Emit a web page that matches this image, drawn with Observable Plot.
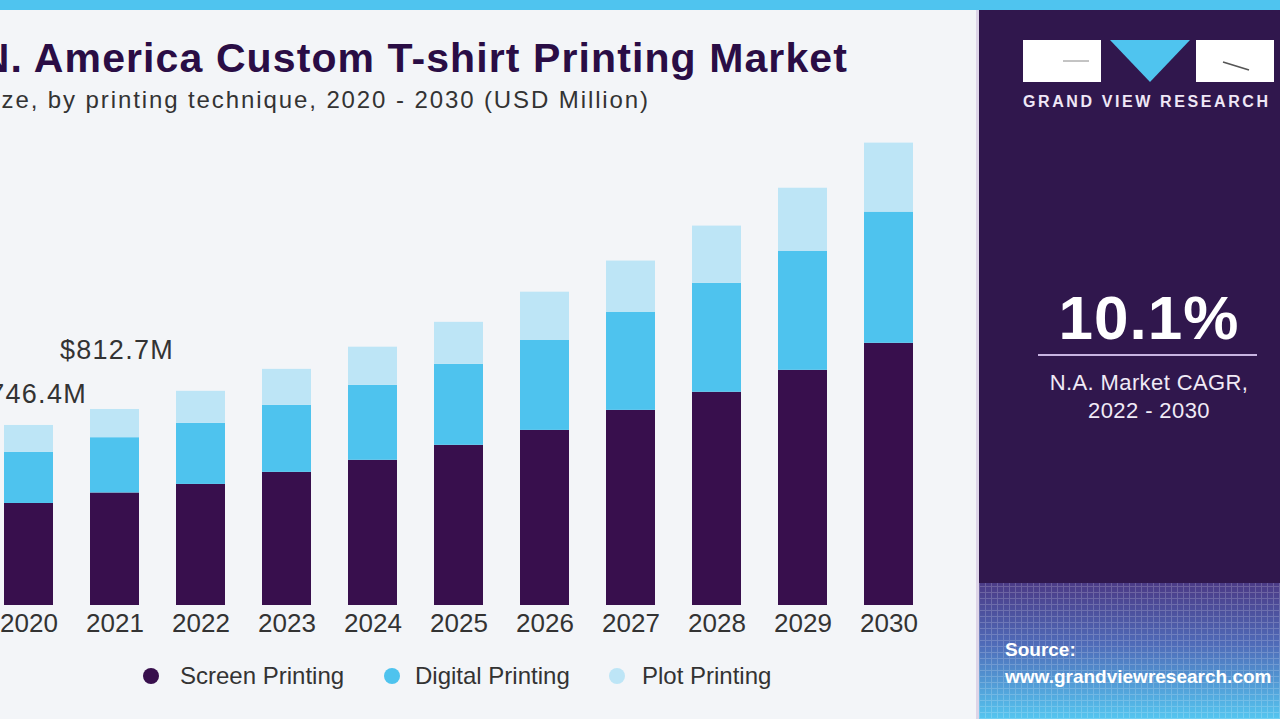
<!DOCTYPE html>
<html>
<head>
<meta charset="utf-8">
<script src="https://cdn.jsdelivr.net/npm/d3@7"></script>
<script src="https://cdn.jsdelivr.net/npm/@observablehq/plot@0.6"></script>
<style>
  body { margin: 0; }
  #page { position: relative; width: 1280px; height: 719px; overflow: hidden; background: #f3f5f8; font-family: "Liberation Sans", Arial, sans-serif; }
  .abs { position: absolute; white-space: nowrap; }
</style>
</head>
<body>
<div id="page">
  <div class="abs" style="left:0;top:0;width:1280px;height:10px;background:#4fc4ef;"></div>
  <div class="abs" style="right:432px;top:35px;font-size:41px;line-height:47px;font-weight:bold;color:#2a0d45;letter-spacing:1.1px;">N. America Custom T-shirt Printing Market</div>
  <div class="abs" style="right:630px;top:86px;font-size:24px;line-height:28px;color:#333;letter-spacing:1.9px;">Market size, by printing technique, 2020 - 2030 (USD Million)</div>
  <div id="chart" class="abs" style="left:0;top:120px;"></div>
  <div id="legend"></div>

  <div class="abs" style="left:976px;top:10px;width:3px;height:709px;background:#ddd5e8;"></div>
  <div class="abs" style="left:979px;top:10px;width:301px;height:709px;background:#30174d;"></div>
  <div class="abs" style="left:979px;top:583px;width:301px;height:136px;background:linear-gradient(#4b3a86 0%, #4f6bb8 45%, #55c6f0 100%);"></div>
  <div class="abs" style="left:979px;top:583px;width:301px;height:136px;opacity:0.18;background:repeating-linear-gradient(90deg, #fff 0 1px, transparent 1px 6px),repeating-linear-gradient(0deg, #fff 0 1px, transparent 1px 6px);"></div>

  <svg class="abs" style="left:979px;top:10px;" width="301" height="120">
    <rect x="44" y="30" width="78" height="42" fill="#ffffff"/>
    <line x1="84" y1="51" x2="110" y2="51" stroke="#888" stroke-width="1"/>
    <polygon points="131,30 211,30 171,72" fill="#4fc4ef"/>
    <rect x="217" y="30" width="78" height="42" fill="#ffffff"/>
    <line x1="244" y1="52" x2="270" y2="60" stroke="#555" stroke-width="1.5"/>
  </svg>
  <div class="abs" style="left:1023px;top:93px;font-size:16px;line-height:18px;font-weight:bold;color:#efe7f6;letter-spacing:2.6px;">GRAND VIEW RESEARCH</div>

  <div class="abs" style="left:1019px;width:260px;top:283px;text-align:center;font-size:62px;line-height:70px;font-weight:bold;color:#ffffff;letter-spacing:1px;">10.1%</div>
  <div class="abs" style="left:1038px;top:354px;width:219px;height:2px;background:#c8b4e2;"></div>
  <div class="abs" style="left:1019px;width:260px;top:369px;text-align:center;font-size:22px;line-height:28px;color:#f0eaf6;letter-spacing:0.4px;">N.A. Market CAGR,<br>2022 - 2030</div>

  <div class="abs" style="left:1005px;top:639px;font-size:19px;line-height:22px;font-weight:bold;color:#ffffff;">Source:</div>
  <div class="abs" style="left:1005px;top:666px;font-size:19px;line-height:22px;font-weight:bold;color:#ffffff;">www.grandviewresearch.com</div>
</div>
<script>
const years = ["2020","2021","2022","2023","2024","2025","2026","2027","2028","2029","2030"];
const screenPrinting = [423.0, 466.5, 502, 552, 602, 664, 726, 809, 884, 975, 1087];
const digitalPrinting = [211.5, 229.2, 253, 278, 311, 336, 374, 407, 452, 494, 544];
const plotPrinting = [111.9, 117.0, 133, 149, 158, 174, 199, 212, 237, 261, 286];
const seriesNames = ["Screen Printing", "Digital Printing", "Plot Printing"];
const seriesColors = ["#380f4d", "#4ec3ee", "#bde5f6"];
const labelYears = ["2020", "2021"];
const labelTexts = ["$746.4M", "$812.7M"];

const seriesValues = [screenPrinting, digitalPrinting, plotPrinting];
const data = years.flatMap((yr, i) => seriesNames.map((s, k) => ({year: yr, series: s, value: seriesValues[k][i]})));
const totals = years.map((yr, i) => screenPrinting[i] + digitalPrinting[i] + plotPrinting[i]);
const labels = labelYears.map((yr, j) => ({year: yr, total: totals[years.indexOf(yr)], label: labelTexts[j]}));

const chart = Plot.plot({
  width: 975,
  height: 530,
  marginLeft: 0, marginRight: 0, marginTop: 0, marginBottom: 45,
  style: {background: "transparent", fontFamily: "'Liberation Sans', Arial, sans-serif", fontSize: "26px", color: "#333"},
  x: {domain: years, range: [2.4, 915.6], paddingInner: 0.43, paddingOuter: 0, label: null},
  y: {domain: [0, 2000], range: [485, 2.6], axis: null},
  color: {domain: seriesNames, range: seriesColors},
  marks: [
    Plot.barY(data, {x: "year", y: "value", fill: "series"}),
    Plot.axisX({tickSize: 0, tickPadding: 8, label: null}),
    Plot.text(labels.slice(0, 1), {x: "year", y: "total", text: "label", textAnchor: "end", dx: 58, dy: -31, fontSize: 27, fill: "#333", style: "letter-spacing:1.3px"}),
    Plot.text(labels.slice(1, 2), {x: "year", y: "total", text: "label", dx: 2, dy: -59, fontSize: 27, fill: "#333"})
  ]
});
chart.querySelectorAll("text").forEach(t => { if (t.textContent.startsWith("$")) t.setAttribute("letter-spacing", "1.3"); });
document.getElementById("chart").appendChild(chart);

const legendPos = [[151, 180], [392, 415], [617, 642]];
const legend = document.getElementById("legend");
seriesNames.forEach((s, k) => {
  const dot = document.createElement("div");
  dot.className = "abs";
  dot.style.cssText = `left:${legendPos[k][0]-8}px;top:668px;width:16px;height:16px;border-radius:50%;background:${seriesColors[k]};`;
  legend.appendChild(dot);
  const t = document.createElement("div");
  t.className = "abs";
  t.style.cssText = `left:${legendPos[k][1]}px;top:662px;font-size:24px;line-height:28px;color:#333;`;
  t.textContent = s;
  legend.appendChild(t);
});
</script>
</body>
</html>
